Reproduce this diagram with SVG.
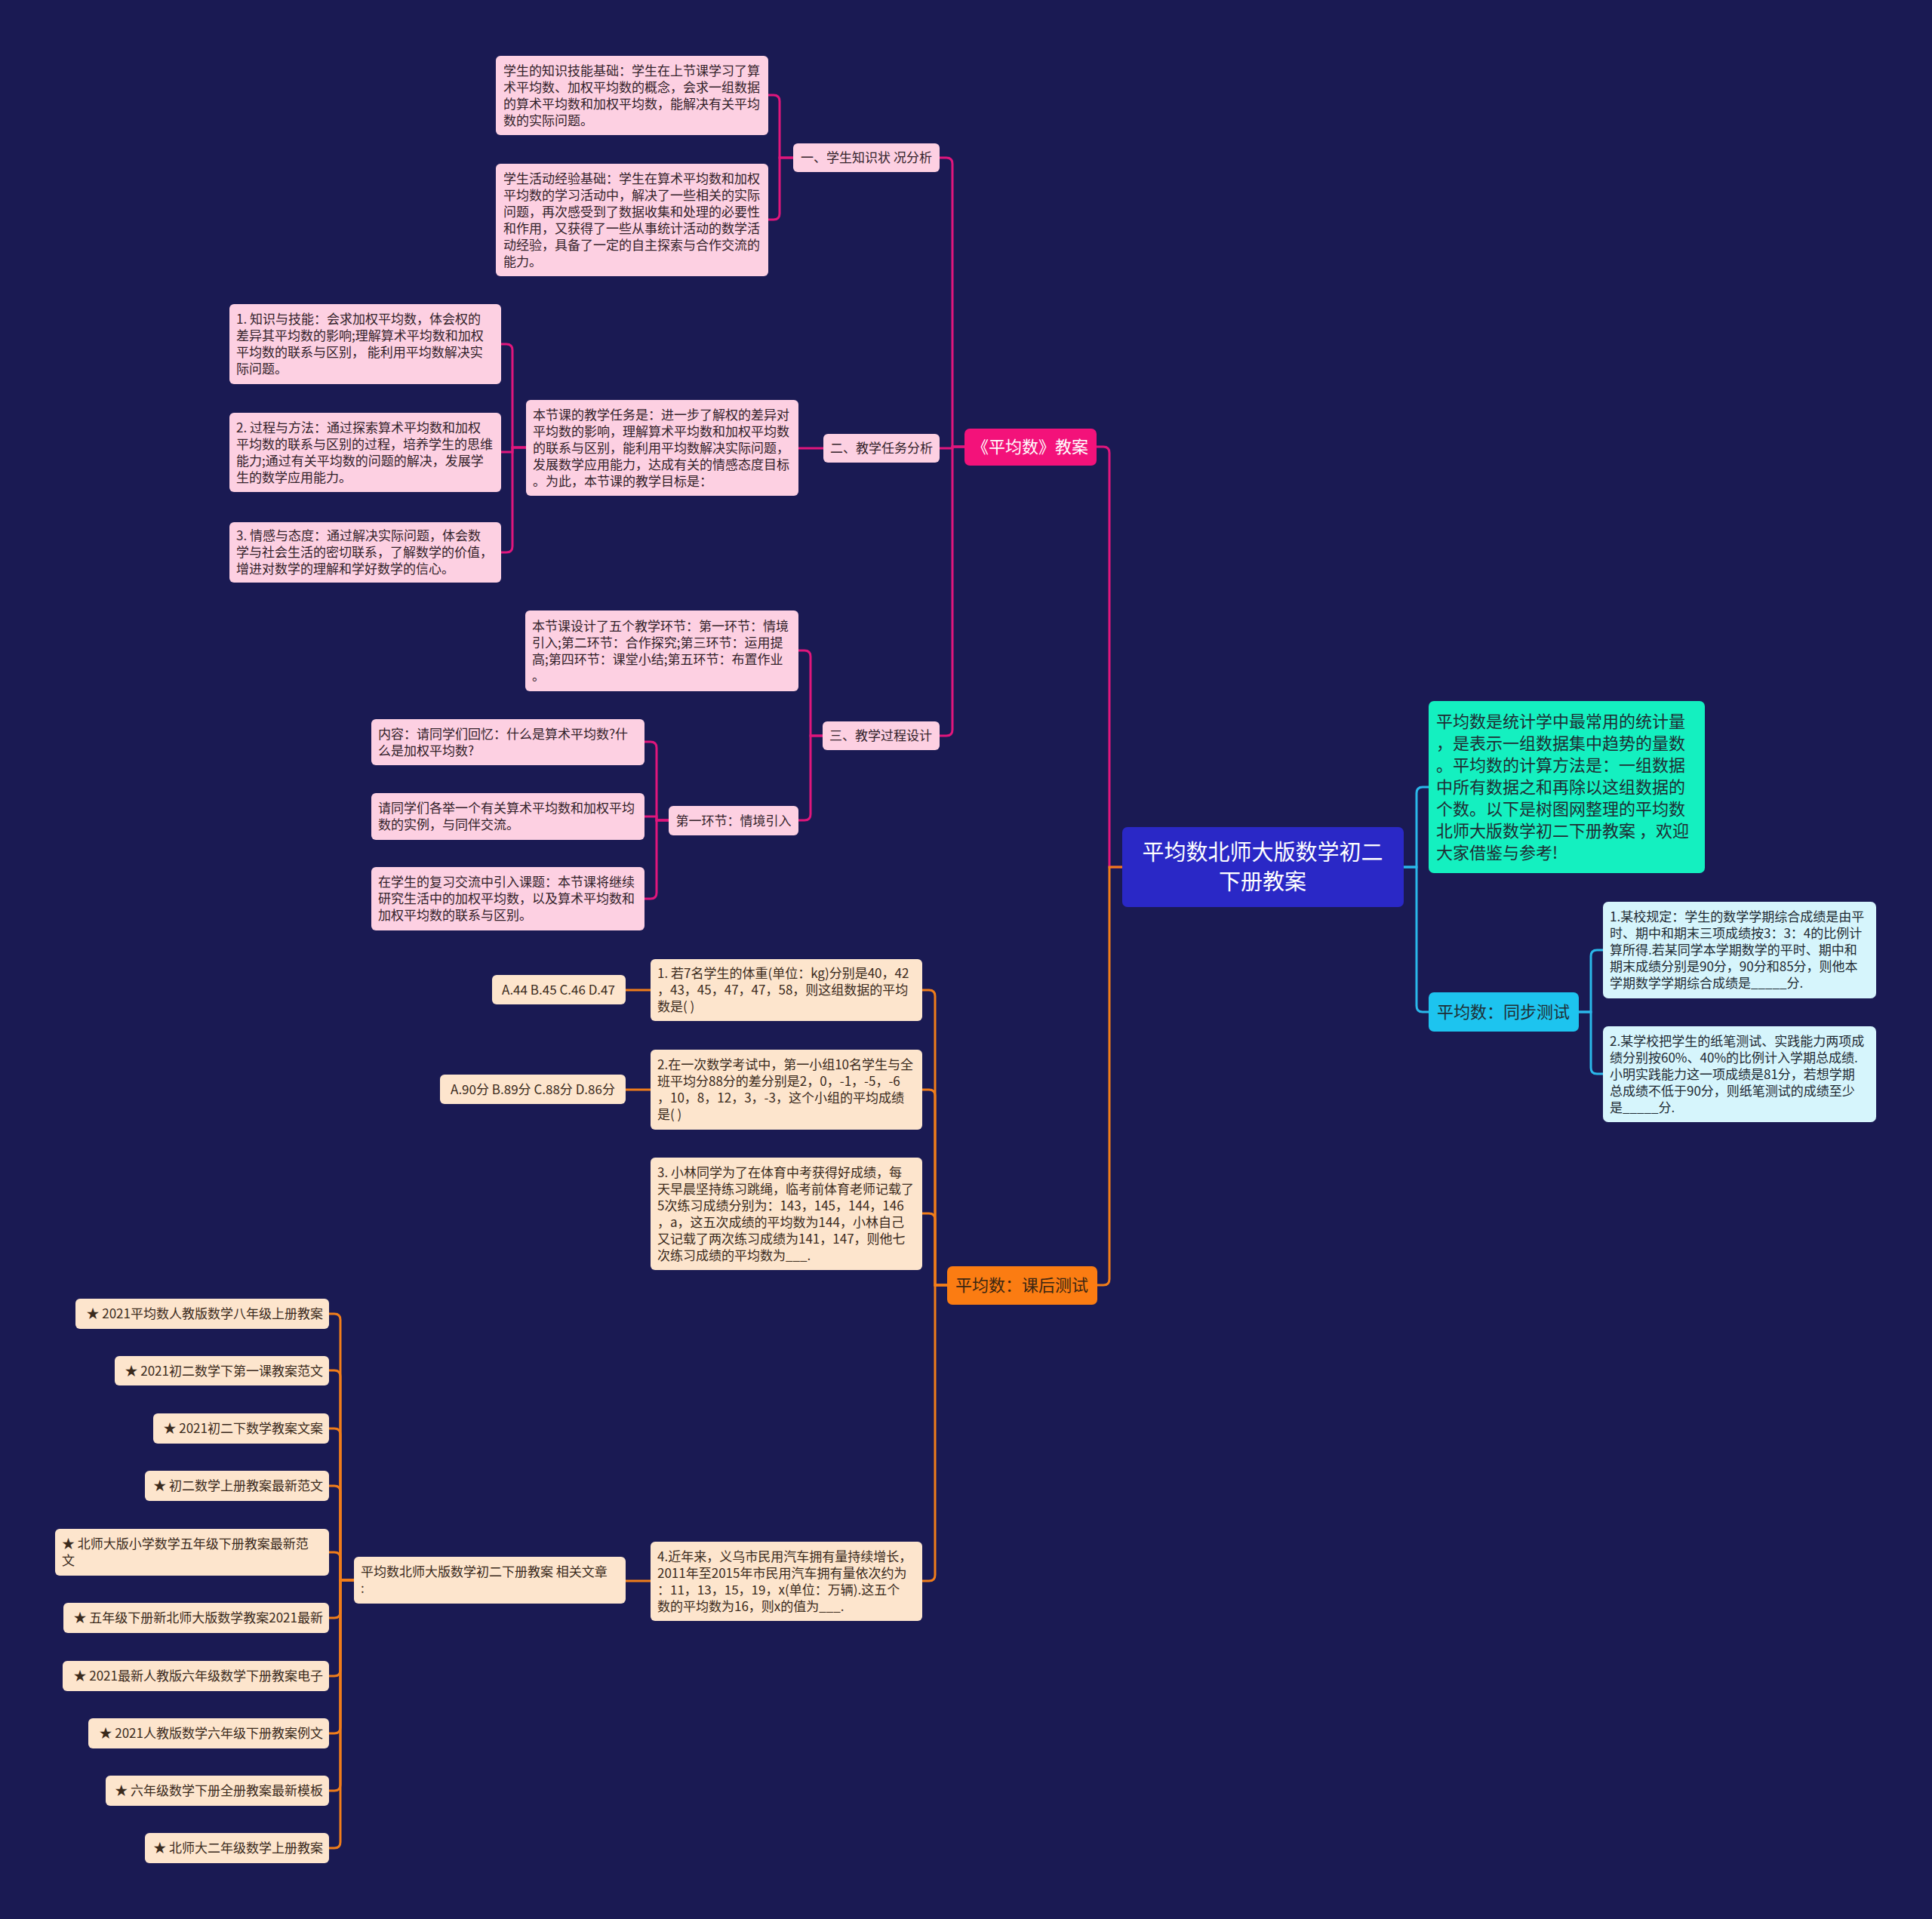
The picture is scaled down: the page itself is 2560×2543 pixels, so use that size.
<svg xmlns="http://www.w3.org/2000/svg" width="2560" height="2543" viewBox="0 0 2560 2543">
<style>
text{font-family:"Noto Sans CJK SC","Noto Sans",sans-serif;}
.t{font-size:17px;fill:#33222a;}
.to{font-size:17px;fill:#3a2a1c;}
.tc{font-size:17px;fill:#1e2a33;}
.pk{fill:#fdd0e2;}
.pe{fill:#fde5cd;}
.lc{fill:#d6f5fc;}
.cp{fill:none;stroke:#e0167c;stroke-width:3;}
.co{fill:none;stroke:#f07d1a;stroke-width:3;}
.cc{fill:none;stroke:#2ab8ea;stroke-width:3;}
.m{text-anchor:middle;}
.e{text-anchor:end;}
</style>
<rect x="0" y="0" width="2560" height="2543" fill="#1a1a53"/>

<g id="connectors">
<path class="cp" d="M1487,1149 H1470 V600 Q1470,592 1462,592 H1453"/>
<path class="co" d="M1487,1149 H1470 V1695 Q1470,1703 1462,1703 H1454"/>
<path class="cc" d="M1860,1149 H1877 V1051 Q1877,1043 1885,1043 H1893"/>
<path class="cc" d="M1860,1149 H1877 V1333 Q1877,1341 1885,1341 H1893"/>
<path class="cc" d="M2092,1341 H2108 V1267 Q2108,1259 2116,1259 H2124"/>
<path class="cc" d="M2092,1341 H2108 V1415 Q2108,1423 2116,1423 H2124"/>

<path class="cp" d="M1278,592 H1262 V217 Q1262,209 1254,209 H1245"/>
<path class="cp" d="M1278,592 H1262 V594 H1245"/>
<path class="cp" d="M1278,592 H1262 V967 Q1262,975 1254,975 H1245"/>
<path class="cp" d="M1051,209 H1033 V134 Q1033,126 1025,126 H1018"/>
<path class="cp" d="M1051,209 H1033 V283 Q1033,291 1025,291 H1018"/>
<path class="cp" d="M1091,594 H1058"/>
<path class="cp" d="M697,593 H679 V464 Q679,456 671,456 H664"/>
<path class="cp" d="M697,593 H679 V599 H664"/>
<path class="cp" d="M697,593 H679 V724 Q679,732 671,732 H664"/>
<path class="cp" d="M1090,975 H1074 V870 Q1074,862 1066,862 H1058"/>
<path class="cp" d="M1090,975 H1074 V1079 Q1074,1087 1066,1087 H1058"/>
<path class="cp" d="M886,1087 H870 V991 Q870,983 862,983 H854"/>
<path class="cp" d="M886,1087 H870 V1082 H854"/>
<path class="cp" d="M886,1087 H870 V1183 Q870,1191 862,1191 H854"/>

<path class="co" d="M1255,1703 H1239 V1320 Q1239,1312 1231,1312 H1222"/>
<path class="co" d="M1255,1703 H1239 V1452 Q1239,1444 1231,1444 H1222"/>
<path class="co" d="M1255,1703 H1239 V1616 Q1239,1608 1231,1608 H1222"/>
<path class="co" d="M1255,1703 H1239 V2087 Q1239,2095 1231,2095 H1222"/>
<path class="co" d="M862,1312 H829"/>
<path class="co" d="M862,1444 H829"/>
<path class="co" d="M862,2095 H829"/>
<path class="co" d="M469,2094 H451 V1749 Q451,1741 443,1741 H436"/>
<path class="co" d="M469,2094 H451 V1824 Q451,1816 443,1816 H436"/>
<path class="co" d="M469,2094 H451 V1901 Q451,1893 443,1893 H436"/>
<path class="co" d="M469,2094 H451 V1977 Q451,1969 443,1969 H436"/>
<path class="co" d="M469,2094 H451 V2065 Q451,2057 443,2057 H436"/>
<path class="co" d="M469,2094 H451 V2136 Q451,2144 443,2144 H436"/>
<path class="co" d="M469,2094 H451 V2213 Q451,2221 443,2221 H436"/>
<path class="co" d="M469,2094 H451 V2289 Q451,2297 443,2297 H436"/>
<path class="co" d="M469,2094 H451 V2365 Q451,2373 443,2373 H436"/>
<path class="co" d="M469,2094 H451 V2441 Q451,2449 443,2449 H436"/>
</g>

<g id="root">
<rect x="1487" y="1096" width="373" height="106" rx="7" fill="#2a28c6"/>
<text class="m" x="1673" y="1140" font-size="29" fill="#ffffff">平均数北师大版数学初二</text>
<text class="m" x="1673" y="1179" font-size="29" fill="#ffffff">下册教案</text>
</g>

<g id="intro">
<rect x="1893" y="929" width="366" height="228" rx="7" fill="#14f0c0"/>
<g font-size="22" fill="#1f2d33">
<text x="1903" y="964">平均数是统计学中最常用的统计量</text>
<text x="1903" y="993">，是表示一组数据集中趋势的量数</text>
<text x="1903" y="1022">。平均数的计算方法是：一组数据</text>
<text x="1903" y="1051">中所有数据之和再除以这组数据的</text>
<text x="1903" y="1080">个数。以下是树图网整理的平均数</text>
<text x="1903" y="1109">北师大版数学初二下册教案 ，欢迎</text>
<text x="1903" y="1138">大家借鉴与参考!</text>
</g>
</g>

<g id="sync">
<rect x="1893" y="1315" width="199" height="52" rx="7" fill="#1dc4ef"/>
<text class="m" x="1992" y="1349" font-size="22" fill="#1f2d33">平均数：同步测试</text>
</g>
<g id="sync-q1">
<rect class="lc" x="2124" y="1195" width="362" height="128" rx="7"/>
<text class="tc" x="2133" y="1221">1.某校规定：学生的数学学期综合成绩是由平</text>
<text class="tc" x="2133" y="1243">时、期中和期末三项成绩按3：3：4的比例计</text>
<text class="tc" x="2133" y="1265">算所得.若某同学本学期数学的平时、期中和</text>
<text class="tc" x="2133" y="1287">期末成绩分别是90分，90分和85分，则他本</text>
<text class="tc" x="2133" y="1309">学期数学学期综合成绩是_____分.</text>
</g>
<g id="sync-q2">
<rect class="lc" x="2124" y="1360" width="362" height="127" rx="7"/>
<text class="tc" x="2133" y="1386">2.某学校把学生的纸笔测试、实践能力两项成</text>
<text class="tc" x="2133" y="1408">绩分别按60%、40%的比例计入学期总成绩.</text>
<text class="tc" x="2133" y="1430">小明实践能力这一项成绩是81分，若想学期</text>
<text class="tc" x="2133" y="1452">总成绩不低于90分，则纸笔测试的成绩至少</text>
<text class="tc" x="2133" y="1474">是_____分.</text>
</g>

<g id="plan">
<rect x="1278" y="568" width="175" height="49" rx="7" fill="#f3127a"/>
<text class="m" x="1365" y="600" font-size="22" fill="#ffffff">《平均数》教案</text>
</g>

<g id="s1">
<rect class="pk" x="1051" y="190" width="194" height="38" rx="6"/>
<text class="t m" x="1148" y="215">一、学生知识状 况分析</text>
</g>
<g id="s1-a">
<rect class="pk" x="657" y="74" width="361" height="105" rx="6"/>
<text class="t" x="667" y="100">学生的知识技能基础：学生在上节课学习了算</text>
<text class="t" x="667" y="122">术平均数、加权平均数的概念，会求一组数据</text>
<text class="t" x="667" y="144">的算术平均数和加权平均数，能解决有关平均</text>
<text class="t" x="667" y="166">数的实际问题。</text>
</g>
<g id="s1-b">
<rect class="pk" x="657" y="217" width="361" height="149" rx="6"/>
<text class="t" x="667" y="243">学生活动经验基础：学生在算术平均数和加权</text>
<text class="t" x="667" y="265">平均数的学习活动中，解决了一些相关的实际</text>
<text class="t" x="667" y="287">问题，再次感受到了数据收集和处理的必要性</text>
<text class="t" x="667" y="309">和作用，又获得了一些从事统计活动的数学活</text>
<text class="t" x="667" y="331">动经验，具备了一定的自主探索与合作交流的</text>
<text class="t" x="667" y="353">能力。</text>
</g>

<g id="s2">
<rect class="pk" x="1091" y="575" width="154" height="38" rx="6"/>
<text class="t m" x="1168" y="600">二、教学任务分析</text>
</g>
<g id="s2-task">
<rect class="pk" x="697" y="530" width="361" height="127" rx="6"/>
<text class="t" x="706" y="556">本节课的教学任务是：进一步了解权的差异对</text>
<text class="t" x="706" y="578">平均数的影响，理解算术平均数和加权平均数</text>
<text class="t" x="706" y="600">的联系与区别，能利用平均数解决实际问题，</text>
<text class="t" x="706" y="622">发展数学应用能力，达成有关的情感态度目标</text>
<text class="t" x="706" y="644">。为此，本节课的教学目标是：</text>
</g>
<g id="s2-g1">
<rect class="pk" x="304" y="403" width="360" height="106" rx="6"/>
<text class="t" x="313" y="429">1. 知识与技能：会求加权平均数，体会权的</text>
<text class="t" x="313" y="451">差异其平均数的影响;理解算术平均数和加权</text>
<text class="t" x="313" y="473">平均数的联系与区别， 能利用平均数解决实</text>
<text class="t" x="313" y="495">际问题。</text>
</g>
<g id="s2-g2">
<rect class="pk" x="304" y="547" width="360" height="105" rx="6"/>
<text class="t" x="313" y="573">2. 过程与方法：通过探索算术平均数和加权</text>
<text class="t" x="313" y="595">平均数的联系与区别的过程，培养学生的思维</text>
<text class="t" x="313" y="617">能力;通过有关平均数的问题的解决，发展学</text>
<text class="t" x="313" y="639">生的数学应用能力。</text>
</g>
<g id="s2-g3">
<rect class="pk" x="304" y="692" width="360" height="80" rx="6"/>
<text class="t" x="313" y="716">3. 情感与态度：通过解决实际问题，体会数</text>
<text class="t" x="313" y="738">学与社会生活的密切联系，了解数学的价值，</text>
<text class="t" x="313" y="760"> 增进对数学的理解和学好数学的信心。</text>
</g>

<g id="s3">
<rect class="pk" x="1090" y="956" width="155" height="38" rx="6"/>
<text class="t m" x="1167" y="981">三、教学过程设计</text>
</g>
<g id="s3-design">
<rect class="pk" x="696" y="809" width="362" height="107" rx="6"/>
<text class="t" x="705" y="836">本节课设计了五个教学环节：第一环节：情境</text>
<text class="t" x="705" y="858">引入;第二环节：合作探究;第三环节：运用提</text>
<text class="t" x="705" y="880">高;第四环节：课堂小结;第五环节：布置作业</text>
<text class="t" x="705" y="902">。</text>
</g>
<g id="s3-step1">
<rect class="pk" x="886" y="1068" width="172" height="39" rx="6"/>
<text class="t m" x="972" y="1094">第一环节：情境引入</text>
</g>
<g id="s3-step1-a">
<rect class="pk" x="492" y="953" width="362" height="61" rx="6"/>
<text class="t" x="501" y="979">内容：请同学们回忆：什么是算术平均数?什</text>
<text class="t" x="501" y="1001">么是加权平均数?</text>
</g>
<g id="s3-step1-b">
<rect class="pk" x="492" y="1051" width="362" height="62" rx="6"/>
<text class="t" x="501" y="1077">请同学们各举一个有关算术平均数和加权平均</text>
<text class="t" x="501" y="1099">数的实例，与同伴交流。</text>
</g>
<g id="s3-step1-c">
<rect class="pk" x="492" y="1149" width="362" height="84" rx="6"/>
<text class="t" x="501" y="1175">在学生的复习交流中引入课题：本节课将继续</text>
<text class="t" x="501" y="1197">研究生活中的加权平均数，以及算术平均数和</text>
<text class="t" x="501" y="1219">加权平均数的联系与区别。</text>
</g>

<g id="after">
<rect x="1255" y="1678" width="199" height="51" rx="7" fill="#fb7c12"/>
<text class="m" x="1354" y="1711" font-size="22" fill="#3a2612">平均数：课后测试</text>
</g>
<g id="q1">
<rect class="pe" x="862" y="1271" width="360" height="82" rx="6"/>
<text class="to" x="871" y="1296">1. 若7名学生的体重(单位：kg)分别是40，42</text>
<text class="to" x="871" y="1318">，43，45，47，47，58，则这组数据的平均</text>
<text class="to" x="871" y="1340">数是( )</text>
</g>
<g id="q1-ans">
<rect class="pe" x="652" y="1292" width="177" height="39" rx="6"/>
<text class="to m" x="740" y="1318">A.44 B.45 C.46 D.47</text>
</g>
<g id="q2">
<rect class="pe" x="862" y="1391" width="360" height="106" rx="6"/>
<text class="to" x="871" y="1417">2.在一次数学考试中，第一小组10名学生与全</text>
<text class="to" x="871" y="1439">班平均分88分的差分别是2，0，-1，-5，-6</text>
<text class="to" x="871" y="1461">，10，8，12，3，-3，这个小组的平均成绩</text>
<text class="to" x="871" y="1483">是( )</text>
</g>
<g id="q2-ans">
<rect class="pe" x="583" y="1424" width="246" height="39" rx="6"/>
<text class="to m" x="706" y="1450">A.90分 B.89分 C.88分 D.86分</text>
</g>
<g id="q3">
<rect class="pe" x="862" y="1534" width="360" height="149" rx="6"/>
<text class="to" x="871" y="1560">3. 小林同学为了在体育中考获得好成绩，每</text>
<text class="to" x="871" y="1582">天早晨坚持练习跳绳，临考前体育老师记载了</text>
<text class="to" x="871" y="1604">5次练习成绩分别为：143，145，144，146</text>
<text class="to" x="871" y="1626">，a，这五次成绩的平均数为144，小林自己</text>
<text class="to" x="871" y="1648">又记载了两次练习成绩为141，147，则他七</text>
<text class="to" x="871" y="1670">次练习成绩的平均数为___.</text>
</g>
<g id="q4">
<rect class="pe" x="862" y="2043" width="360" height="105" rx="6"/>
<text class="to" x="871" y="2069">4.近年来，义乌市民用汽车拥有量持续增长，</text>
<text class="to" x="871" y="2091">2011年至2015年市民用汽车拥有量依次约为</text>
<text class="to" x="871" y="2113">：11，13，15，19，x(单位：万辆).这五个</text>
<text class="to" x="871" y="2135">数的平均数为16，则x的值为___.</text>
</g>
<g id="related">
<rect class="pe" x="469" y="2063" width="360" height="62" rx="6"/>
<text class="to" x="478" y="2089">平均数北师大版数学初二下册教案 相关文章</text>
<text class="to" x="478" y="2111">:</text>
</g>
<g id="r1"><rect class="pe" x="100" y="1721" width="336" height="40" rx="6"/><text class="to e" x="428" y="1747">★ 2021平均数人教版数学八年级上册教案</text></g>
<g id="r2"><rect class="pe" x="152" y="1797" width="284" height="39" rx="6"/><text class="to e" x="428" y="1823">★ 2021初二数学下第一课教案范文</text></g>
<g id="r3"><rect class="pe" x="203" y="1873" width="233" height="40" rx="6"/><text class="to e" x="428" y="1899">★ 2021初二下数学教案文案</text></g>
<g id="r4"><rect class="pe" x="192" y="1949" width="244" height="40" rx="6"/><text class="to e" x="428" y="1975">★ 初二数学上册教案最新范文</text></g>
<g id="r5"><rect class="pe" x="73" y="2026" width="363" height="62" rx="6"/><text class="to" x="82" y="2052">★ 北师大版小学数学五年级下册教案最新范</text><text class="to" x="82" y="2074">文</text></g>
<g id="r6"><rect class="pe" x="84" y="2124" width="352" height="40" rx="6"/><text class="to e" x="428" y="2150">★ 五年级下册新北师大版数学教案2021最新</text></g>
<g id="r7"><rect class="pe" x="83" y="2201" width="353" height="40" rx="6"/><text class="to e" x="428" y="2227">★ 2021最新人教版六年级数学下册教案电子</text></g>
<g id="r8"><rect class="pe" x="117" y="2277" width="319" height="40" rx="6"/><text class="to e" x="428" y="2303">★ 2021人教版数学六年级下册教案例文</text></g>
<g id="r9"><rect class="pe" x="140" y="2353" width="296" height="40" rx="6"/><text class="to e" x="428" y="2379">★ 六年级数学下册全册教案最新模板</text></g>
<g id="r10"><rect class="pe" x="192" y="2429" width="244" height="40" rx="6"/><text class="to e" x="428" y="2455">★ 北师大二年级数学上册教案</text></g>
</svg>
